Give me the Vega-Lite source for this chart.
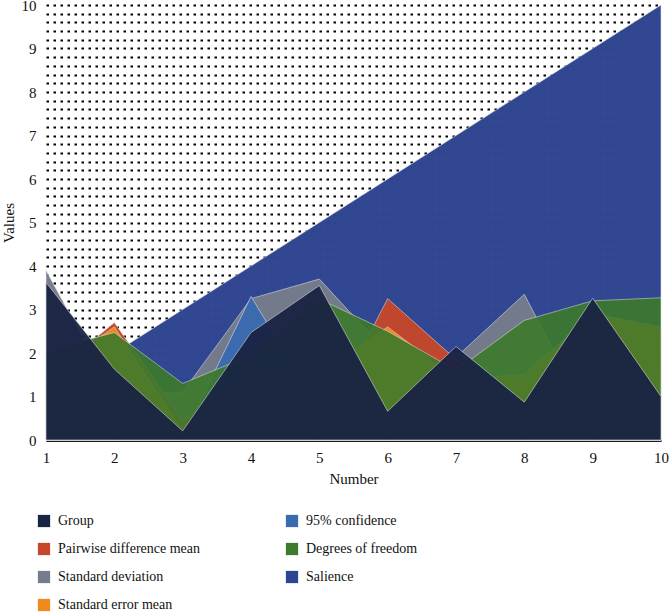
{
  "$schema": "https://vega.github.io/schema/vega-lite/v6.json",
  "width": 615,
  "height": 435,
  "autosize": {"type": "none"},
  "padding": {"left": 46, "top": 5, "right": 8, "bottom": 173},
  "background": "white",
  "config": {
    "view": {"stroke": null},
    "font": "Liberation Serif, serif",
    "legend": {"labelFont": "Liberation Serif, serif", "titleFont": "Liberation Serif, serif"},
    "axis": {"labelFont": "Liberation Serif, serif", "titleFont": "Liberation Serif, serif"}
  },
  "data": {
    "values": [
      {"series": "Salience", "x": 1, "v": 1}, {"series": "Salience", "x": 2, "v": 2}, {"series": "Salience", "x": 3, "v": 3}, {"series": "Salience", "x": 4, "v": 4}, {"series": "Salience", "x": 5, "v": 5}, {"series": "Salience", "x": 6, "v": 6}, {"series": "Salience", "x": 7, "v": 7}, {"series": "Salience", "x": 8, "v": 8}, {"series": "Salience", "x": 9, "v": 9}, {"series": "Salience", "x": 10, "v": 10},
      {"series": "Standard deviation", "x": 1, "v": 3.9}, {"series": "Standard deviation", "x": 2, "v": 1.0}, {"series": "Standard deviation", "x": 3, "v": 1.1}, {"series": "Standard deviation", "x": 4, "v": 3.25}, {"series": "Standard deviation", "x": 5, "v": 3.7}, {"series": "Standard deviation", "x": 6, "v": 2.0}, {"series": "Standard deviation", "x": 7, "v": 1.9}, {"series": "Standard deviation", "x": 8, "v": 3.35}, {"series": "Standard deviation", "x": 9, "v": 0.3}, {"series": "Standard deviation", "x": 10, "v": 2.5},
      {"series": "95% confidence", "x": 1, "v": 1.5}, {"series": "95% confidence", "x": 2, "v": 1.0}, {"series": "95% confidence", "x": 3, "v": 0.05}, {"series": "95% confidence", "x": 4, "v": 3.3}, {"series": "95% confidence", "x": 5, "v": 0.7}, {"series": "95% confidence", "x": 6, "v": 1.2}, {"series": "95% confidence", "x": 7, "v": 2.0}, {"series": "95% confidence", "x": 8, "v": 1.2}, {"series": "95% confidence", "x": 9, "v": 1.0}, {"series": "95% confidence", "x": 10, "v": 1.5},
      {"series": "Pairwise difference mean", "x": 1, "v": 1.4}, {"series": "Pairwise difference mean", "x": 2, "v": 2.7}, {"series": "Pairwise difference mean", "x": 3, "v": 0.45}, {"series": "Pairwise difference mean", "x": 4, "v": 1.5}, {"series": "Pairwise difference mean", "x": 5, "v": 0.2}, {"series": "Pairwise difference mean", "x": 6, "v": 3.25}, {"series": "Pairwise difference mean", "x": 7, "v": 1.85}, {"series": "Pairwise difference mean", "x": 8, "v": 1.0}, {"series": "Pairwise difference mean", "x": 9, "v": 1.5}, {"series": "Pairwise difference mean", "x": 10, "v": 2.0},
      {"series": "Standard error mean", "x": 1, "v": 1.5}, {"series": "Standard error mean", "x": 2, "v": 2.6}, {"series": "Standard error mean", "x": 3, "v": 0.2}, {"series": "Standard error mean", "x": 4, "v": 1.5}, {"series": "Standard error mean", "x": 5, "v": 1.5}, {"series": "Standard error mean", "x": 6, "v": 2.6}, {"series": "Standard error mean", "x": 7, "v": 1.4}, {"series": "Standard error mean", "x": 8, "v": 1.5}, {"series": "Standard error mean", "x": 9, "v": 2.9}, {"series": "Standard error mean", "x": 10, "v": 2.6},
      {"series": "Degrees of freedom", "x": 1, "v": 2.05}, {"series": "Degrees of freedom", "x": 2, "v": 2.47}, {"series": "Degrees of freedom", "x": 3, "v": 1.3}, {"series": "Degrees of freedom", "x": 4, "v": 1.95}, {"series": "Degrees of freedom", "x": 5, "v": 3.24}, {"series": "Degrees of freedom", "x": 6, "v": 2.5}, {"series": "Degrees of freedom", "x": 7, "v": 1.6}, {"series": "Degrees of freedom", "x": 8, "v": 2.75}, {"series": "Degrees of freedom", "x": 9, "v": 3.2}, {"series": "Degrees of freedom", "x": 10, "v": 3.27},
      {"series": "Group", "x": 1, "v": 3.62}, {"series": "Group", "x": 2, "v": 1.63}, {"series": "Group", "x": 3, "v": 0.21}, {"series": "Group", "x": 4, "v": 2.47}, {"series": "Group", "x": 5, "v": 3.55}, {"series": "Group", "x": 6, "v": 0.66}, {"series": "Group", "x": 7, "v": 2.15}, {"series": "Group", "x": 8, "v": 0.87}, {"series": "Group", "x": 9, "v": 3.26}, {"series": "Group", "x": 10, "v": 1.0}
    ]
  },
  "encoding": {
    "x": {
      "field": "x", "type": "quantitative", "title": "Number",
      "scale": {"domain": [1, 10], "nice": false, "zero": false},
      "axis": {
        "values": [1, 2, 3, 4, 5, 6, 7, 8, 9, 10],
        "format": "d",
        "ticks": false, "grid": false, "labelFlush": false,
        "domain": true, "domainColor": "#1a1a1a", "domainWidth": 3,
        "labelFont": "Liberation Serif, serif", "labelFontSize": 15, "labelColor": "#111",
        "labelPadding": 10,
        "titleFont": "Liberation Serif, serif", "titleFontSize": 15, "titleFontWeight": "normal", "titleColor": "#111",
        "titlePadding": 6
      }
    },
    "y": {
      "field": "v", "type": "quantitative", "title": "Values", "stack": null,
      "scale": {"domain": [0, 10], "nice": false},
      "axis": {
        "values": [0, 0.2, 0.4, 0.6, 0.8, 1, 1.2, 1.4, 1.6, 1.8, 2, 2.2, 2.4, 2.6, 2.8, 3, 3.2, 3.4, 3.6, 3.8, 4, 4.2, 4.4, 4.6, 4.8, 5, 5.2, 5.4, 5.6, 5.8, 6, 6.2, 6.4, 6.6, 6.8, 7, 7.2, 7.4, 7.6, 7.8, 8, 8.2, 8.4, 8.6, 8.8, 9, 9.2, 9.4, 9.6, 9.8, 10],
        "labelExpr": "datum.value % 1 === 0 ? format(datum.value, 'd') : ''",
        "ticks": false, "domain": false, "labelFlush": false,
        "grid": true, "gridColor": "#000", "gridDash": [2.5, 4.5], "gridWidth": 2,
        "labelFont": "Liberation Serif, serif", "labelFontSize": 15, "labelColor": "#111",
        "labelPadding": 10,
        "titleFont": "Liberation Serif, serif", "titleFontSize": 15, "titleFontWeight": "normal", "titleColor": "#111",
        "titlePadding": 5
      }
    },
    "color": {
      "field": "series", "type": "nominal", "title": null,
      "scale": {
        "domain": ["Group", "Pairwise difference mean", "Standard deviation", "Standard error mean", "95% confidence", "Degrees of freedom", "Salience"],
        "range": ["#1a2443", "#c4472a", "#767c8b", "#f08a1c", "#3a6bb0", "#3d7a2c", "#2e4591"]
      },
      "legend": {
        "orient": "none", "legendX": -9, "legendY": 509, "columns": 2, "direction": "vertical",
        "symbolType": "square", "symbolSize": 150, "symbolStrokeWidth": 0, "symbolOpacity": 1,
        "labelFont": "Liberation Serif, serif", "labelFontSize": 14, "labelColor": "#111", "labelOffset": 7,
        "rowPadding": 14, "columnPadding": 84, "padding": 0, "labelLimit": 300
      }
    }
  },
  "layer": [
    {"transform": [{"filter": {"field": "series", "equal": "Salience"}}], "mark": {"type": "area", "opacity": 0.985, "stroke": "#e8e8e8", "strokeWidth": 0.8, "strokeOpacity": 0.7}},
    {"transform": [{"filter": {"field": "series", "equal": "Standard deviation"}}], "mark": {"type": "area", "opacity": 0.97, "stroke": "#e8e8e8", "strokeWidth": 0.8, "strokeOpacity": 0.7}},
    {"transform": [{"filter": {"field": "series", "equal": "95% confidence"}}], "mark": {"type": "area", "opacity": 0.97, "stroke": "#e8e8e8", "strokeWidth": 0.8, "strokeOpacity": 0.7}},
    {"transform": [{"filter": {"field": "series", "equal": "Pairwise difference mean"}}], "mark": {"type": "area", "opacity": 0.97, "stroke": "#e8e8e8", "strokeWidth": 0.8, "strokeOpacity": 0.7}},
    {"transform": [{"filter": {"field": "series", "equal": "Standard error mean"}}], "mark": {"type": "area", "opacity": 0.97, "stroke": "#e8e8e8", "strokeWidth": 0.8, "strokeOpacity": 0.7}},
    {"transform": [{"filter": {"field": "series", "equal": "Degrees of freedom"}}], "mark": {"type": "area", "opacity": 0.9, "stroke": "#e8e8e8", "strokeWidth": 0.8, "strokeOpacity": 0.7}},
    {"transform": [{"filter": {"field": "series", "equal": "Group"}}], "mark": {"type": "area", "opacity": 0.95, "stroke": "#e8e8e8", "strokeWidth": 0.8, "strokeOpacity": 0.7}}
  ]
}
